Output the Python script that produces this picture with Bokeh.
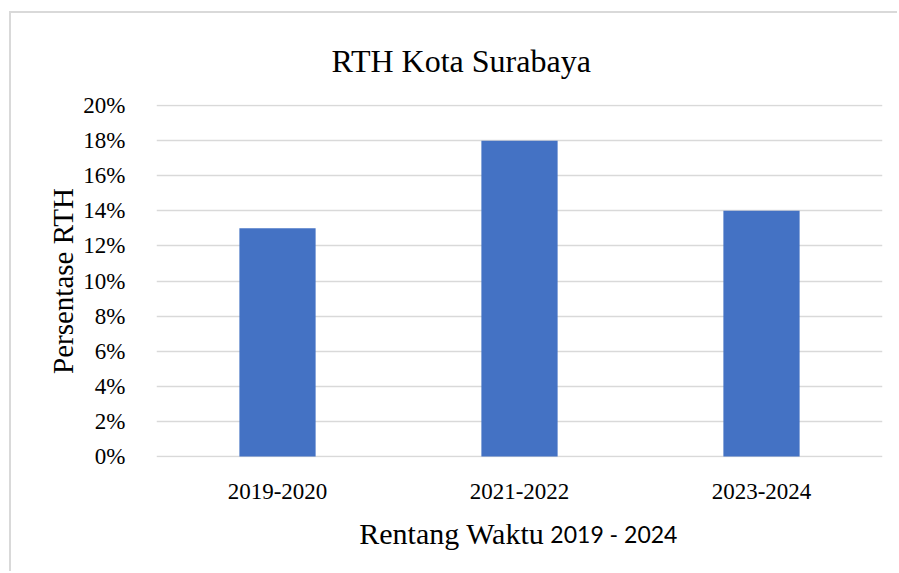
from bokeh.plotting import figure
from bokeh.models import (ColumnDataSource, Range1d, NumeralTickFormatter,
                          SingleIntervalTicker, FixedTicker, LinearAxis)
from bokeh.embed import file_html
from bokeh.resources import INLINE

categories = ["2019-2020", "2021-2022", "2023-2024"]
values = [0.13, 0.18, 0.14]

title_text = "RTH Kota Surabaya"
x_label_serif = "Rentang Waktu"
x_label_sans = "2019 - 2024"
y_label = "Persentase RTH"

SERIF = "Liberation Serif"
SANS = "Lato"

# figure placed inside a light border, as in the reference
OX, OY = 11, 13                 # where the figure content starts in the window
W, H = 899 - OX, 573 - OY
FL, FR, FT, FB = 156 - OX, 882 - OX, 104 - OY, 457 - OY  # frame edges (figure px)

n = len(categories)
xpos = [i + 0.5 for i in range(n)]   # category slots on a 0..n axis

p = figure(width=W, height=H, output_backend="svg", toolbar_location=None,
           x_range=Range1d(0, n),
           y_range=Range1d(-0.0006, 0.2006),
           min_border_left=FL, min_border_right=W - FR,
           min_border_top=FT, min_border_bottom=H - FB)
p.margin = (OY - 2, 0, 0, OX - 2)
p.styles = {"border-top": "2px solid #d9d9d9", "border-left": "2px solid #d9d9d9"}
p.outline_line_color = None
p.background_fill_color = "white"
p.border_fill_color = "white"

src = ColumnDataSource(dict(x=xpos, val=values, cat=categories))
p.vbar(x="x", top="val", width=0.315, source=src, color="#4472C4", line_color=None)

# title
p.title.text = title_text
p.title.text_font = SERIF
p.title.text_font_size = "32px"
p.title.text_font_style = "normal"
p.title.text_color = "#000000"
p.title.align = "left"
p.title.offset = 175
p.title.standoff = 51

# axes
p.xaxis.ticker = FixedTicker(ticks=xpos)
p.xaxis.major_label_overrides = {x: c for x, c in zip(xpos, categories)}
p.yaxis.ticker = SingleIntervalTicker(interval=0.02)
p.yaxis.formatter = NumeralTickFormatter(format="0%")
for ax in (p.xaxis[0], p.yaxis[0]):
    ax.axis_line_color = None
    ax.major_tick_line_color = None
    ax.minor_tick_line_color = None
    ax.major_label_text_font = SERIF
    ax.major_label_text_font_size = "23px"
    ax.major_label_text_color = "#000000"
p.yaxis.major_label_standoff = 25
p.xaxis.major_label_standoff = 20

p.yaxis.axis_label = y_label
p.yaxis.axis_label_text_font = SERIF
p.yaxis.axis_label_text_font_size = "29px"
p.yaxis.axis_label_text_font_style = "normal"
p.yaxis.axis_label_text_color = "#000000"
p.yaxis.axis_label_standoff = 1

# x-axis title in two fonts: two helper axes, one tick each
serif_pos = 1.22
sans_pos = 1.89
ax_a = LinearAxis(ticker=FixedTicker(ticks=[serif_pos]),
                  major_label_overrides={serif_pos: x_label_serif})
ax_b = LinearAxis(ticker=FixedTicker(ticks=[sans_pos]),
                  major_label_overrides={sans_pos: x_label_sans})
for ax, font, size, so in ((ax_a, SERIF, "30px", 9), (ax_b, SANS, "23px", -39)):
    ax.axis_line_color = None
    ax.major_tick_line_color = None
    ax.minor_tick_line_color = None
    ax.major_label_text_font = font
    ax.major_label_text_font_size = size
    ax.major_label_text_color = "#000000"
    ax.major_label_standoff = so
    p.add_layout(ax, "below")

p.xgrid.grid_line_color = None
p.ygrid.grid_line_color = "#d9d9d9"
p.ygrid.grid_line_width = 1.5

open("out.html", "w").write(file_html(p, INLINE))
